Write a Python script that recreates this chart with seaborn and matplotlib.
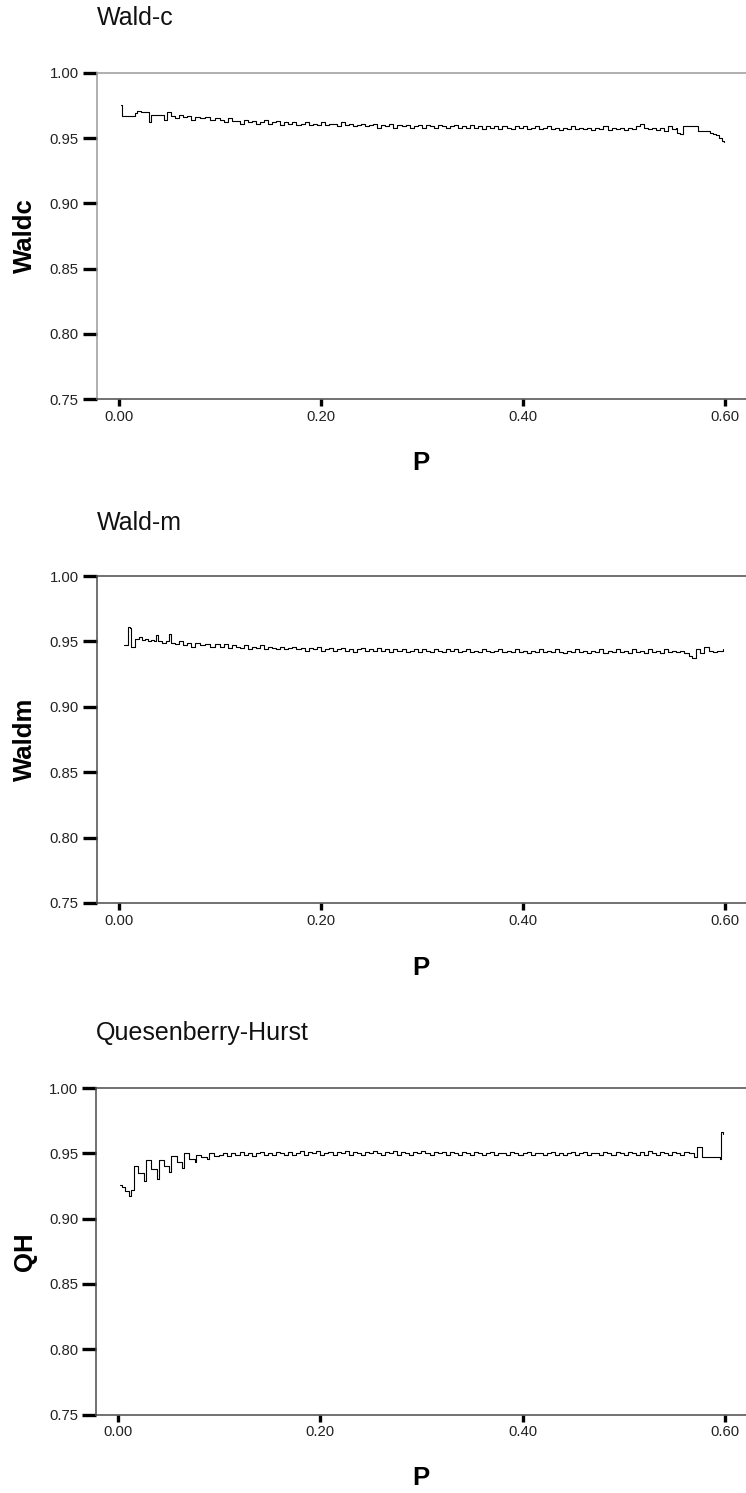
import numpy as np
import pandas as pd
import matplotlib
matplotlib.use("Agg")
import matplotlib.pyplot as plt
from matplotlib.ticker import FormatStrFormatter
import seaborn as sns

# ---------------- data ----------------
# shared P grid for the middle stretch of every curve
p_mid = [0.100, 0.104, 0.108, 0.112, 0.116, 0.120, 0.124, 0.128, 0.132, 0.136,
         0.140, 0.144, 0.148, 0.152, 0.156, 0.160, 0.164, 0.168, 0.172, 0.176,
         0.180, 0.184, 0.188, 0.192, 0.196, 0.200, 0.204, 0.208, 0.212, 0.216,
         0.220, 0.224, 0.228, 0.232, 0.236, 0.240, 0.244, 0.248, 0.252, 0.256,
         0.260, 0.264, 0.268, 0.272, 0.276, 0.280, 0.284, 0.288, 0.292, 0.296,
         0.300, 0.304, 0.308, 0.312, 0.316, 0.320, 0.324, 0.328, 0.332, 0.336,
         0.340, 0.344, 0.348, 0.352, 0.356, 0.360, 0.364, 0.368, 0.372, 0.376,
         0.380, 0.384, 0.388, 0.392, 0.396, 0.400, 0.404, 0.408, 0.412, 0.416,
         0.420, 0.424, 0.428, 0.432, 0.436, 0.440, 0.444, 0.448, 0.452, 0.456,
         0.460, 0.464, 0.468, 0.472, 0.476, 0.480, 0.484, 0.488, 0.492, 0.496,
         0.500, 0.504, 0.508, 0.512, 0.516, 0.520, 0.524, 0.528, 0.532, 0.536,
         0.540, 0.544, 0.548]

# Wald-c
p_waldc_early = [0.0025, 0.0035, 0.010, 0.016, 0.018, 0.022, 0.026, 0.030, 0.032, 0.040,
                 0.045, 0.048, 0.052, 0.056, 0.060, 0.064, 0.068, 0.072, 0.076, 0.080,
                 0.085, 0.090, 0.095]
waldc_early = [0.975, 0.967, 0.967, 0.969, 0.971, 0.970, 0.970, 0.962, 0.968, 0.968,
               0.964, 0.970, 0.967, 0.965, 0.968, 0.966, 0.967, 0.964, 0.966, 0.965,
               0.966, 0.964, 0.965]
waldc_mid = [0.964, 0.962, 0.965, 0.963, 0.963, 0.961, 0.964, 0.962, 0.963, 0.961,
             0.962, 0.964, 0.961, 0.962, 0.963, 0.960, 0.962, 0.961, 0.962, 0.960,
             0.961, 0.962, 0.960, 0.961, 0.960, 0.962, 0.960, 0.961, 0.961, 0.959,
             0.962, 0.960, 0.961, 0.959, 0.960, 0.961, 0.959, 0.960, 0.961, 0.958,
             0.960, 0.959, 0.961, 0.958, 0.960, 0.959, 0.960, 0.958, 0.959, 0.960,
             0.958, 0.960, 0.959, 0.958, 0.960, 0.959, 0.958, 0.959, 0.960, 0.958,
             0.959, 0.958, 0.960, 0.958, 0.959, 0.957, 0.959, 0.958, 0.959, 0.957,
             0.959, 0.958, 0.957, 0.959, 0.958, 0.959, 0.957, 0.958, 0.959, 0.957,
             0.958, 0.959, 0.957, 0.958, 0.956, 0.958, 0.957, 0.959, 0.957, 0.958,
             0.957, 0.958, 0.956, 0.958, 0.957, 0.959, 0.956, 0.958, 0.957, 0.958,
             0.956, 0.958, 0.957, 0.959, 0.961, 0.958, 0.957, 0.958, 0.956, 0.958,
             0.955, 0.959, 0.957]
p_waldc_late = [0.552, 0.553, 0.556, 0.559, 0.574, 0.582, 0.585, 0.588, 0.591, 0.594,
                0.597, 0.599]
waldc_late = [0.958, 0.954, 0.953, 0.959, 0.955, 0.955, 0.954, 0.953, 0.952, 0.950,
              0.948, 0.947]

# Wald-m
p_waldm_early = [0.005, 0.008, 0.009, 0.011, 0.012, 0.015, 0.016, 0.020, 0.023, 0.026,
                 0.029, 0.032, 0.035, 0.037, 0.039, 0.043, 0.047, 0.050, 0.052, 0.056,
                 0.060, 0.064, 0.068, 0.072, 0.076, 0.080, 0.085, 0.090, 0.095]
waldm_early = [0.947, 0.947, 0.961, 0.960, 0.946, 0.946, 0.952, 0.953, 0.951, 0.952,
               0.950, 0.951, 0.950, 0.955, 0.950, 0.949, 0.950, 0.956, 0.949, 0.948,
               0.950, 0.947, 0.949, 0.946, 0.949, 0.947, 0.948, 0.946, 0.948]
waldm_mid = [0.946, 0.948, 0.945, 0.947, 0.946, 0.945, 0.947, 0.944, 0.946, 0.945,
             0.947, 0.944, 0.946, 0.945, 0.944, 0.946, 0.944, 0.945, 0.946, 0.944,
             0.945, 0.943, 0.945, 0.944, 0.946, 0.943, 0.944, 0.945, 0.943, 0.944,
             0.945, 0.943, 0.944, 0.942, 0.944, 0.945, 0.943, 0.944, 0.943, 0.945,
             0.943, 0.944, 0.942, 0.944, 0.943, 0.944, 0.942, 0.943, 0.944, 0.942,
             0.944, 0.943, 0.942, 0.944, 0.943, 0.942, 0.944, 0.943, 0.944, 0.942,
             0.943, 0.944, 0.942, 0.943, 0.942, 0.944, 0.943, 0.942, 0.943, 0.944,
             0.942, 0.943, 0.942, 0.944, 0.942, 0.943, 0.941, 0.943, 0.942, 0.944,
             0.942, 0.943, 0.942, 0.944, 0.942, 0.941, 0.943, 0.942, 0.944, 0.942,
             0.943, 0.941, 0.943, 0.942, 0.944, 0.941, 0.943, 0.942, 0.944, 0.942,
             0.943, 0.941, 0.944, 0.942, 0.943, 0.941, 0.944, 0.942, 0.943, 0.941,
             0.944, 0.942, 0.943]
p_waldm_late = [0.552, 0.556, 0.560, 0.565, 0.568, 0.572, 0.576, 0.580, 0.584, 0.588,
                0.592, 0.598]
waldm_late = [0.942, 0.943, 0.941, 0.939, 0.937, 0.944, 0.941, 0.946, 0.943, 0.942,
              0.943, 0.944]

# Quesenberry-Hurst
p_qh_early = [0.0013, 0.004, 0.007, 0.0109, 0.013, 0.0153, 0.020, 0.0258, 0.027, 0.032,
              0.038, 0.040, 0.045, 0.050, 0.052, 0.058, 0.0635, 0.065, 0.070, 0.0755,
              0.077, 0.082, 0.088, 0.090, 0.095]
qh_early = [0.926, 0.924, 0.921, 0.917, 0.922, 0.940, 0.935, 0.929, 0.945, 0.938,
            0.930, 0.945, 0.940, 0.936, 0.948, 0.943, 0.939, 0.950, 0.946, 0.943,
            0.949, 0.947, 0.946, 0.950, 0.948]
qh_mid = [0.949, 0.950, 0.948, 0.950, 0.949, 0.951, 0.949, 0.950, 0.948, 0.950,
          0.951, 0.949, 0.950, 0.949, 0.951, 0.950, 0.949, 0.951, 0.949, 0.950,
          0.952, 0.949, 0.951, 0.950, 0.952, 0.949, 0.950, 0.951, 0.949, 0.951,
          0.950, 0.952, 0.949, 0.951, 0.950, 0.949, 0.951, 0.950, 0.952, 0.950,
          0.949, 0.951, 0.950, 0.952, 0.949, 0.951, 0.950, 0.949, 0.951, 0.950,
          0.952, 0.950, 0.949, 0.951, 0.950, 0.951, 0.949, 0.951, 0.950, 0.949,
          0.951, 0.950, 0.949, 0.951, 0.950, 0.949, 0.950, 0.951, 0.949, 0.950,
          0.950, 0.949, 0.951, 0.950, 0.949, 0.950, 0.951, 0.949, 0.950, 0.950,
          0.949, 0.950, 0.951, 0.949, 0.950, 0.949, 0.950, 0.951, 0.949, 0.950,
          0.951, 0.949, 0.950, 0.950, 0.949, 0.951, 0.950, 0.949, 0.951, 0.950,
          0.949, 0.951, 0.950, 0.949, 0.951, 0.949, 0.952, 0.950, 0.949, 0.951,
          0.950, 0.949, 0.951]
p_qh_late = [0.552, 0.556, 0.560, 0.565, 0.570, 0.573, 0.578, 0.590, 0.5955, 0.5965,
             0.598]
qh_late = [0.950, 0.949, 0.951, 0.950, 0.947, 0.955, 0.947, 0.947, 0.946, 0.966,
           0.965]

titles = ["Wald-c", "Wald-m", "Quesenberry-Hurst"]
ylabels = ["Waldc", "Waldm", "QH"]
xlabel = "P"
xticks = [0.00, 0.20, 0.40, 0.60]
yticks = [0.75, 0.80, 0.85, 0.90, 0.95, 1.00]

series = [
    (p_waldc_early + p_mid + p_waldc_late, waldc_early + waldc_mid + waldc_late),
    (p_waldm_early + p_mid + p_waldm_late, waldm_early + waldm_mid + waldm_late),
    (p_qh_early + p_mid + p_qh_late, qh_early + qh_mid + qh_late),
]

# ---------------- styling ----------------
sns.set_theme(style="white")
plt.rcParams["font.family"] = ["Liberation Sans", "DejaVu Sans"]

W, H = 746, 1493
fig = plt.figure(figsize=(W / 100, H / 100), dpi=100)

# axes boxes in pixels: (left, top, bottom)
boxes = [(96.7, 72.7, 399.3), (96.7, 576.0, 903.0), (96.2, 1088.0, 1414.5)]
title_y = [18, 523, 1033]
xlabel_y = [463, 968, 1478]
spine_cols = ["#9a9a9a", "#4a4a4a", "#4a4a4a"]

for i, ((left, top, bottom), (px, py)) in enumerate(zip(boxes, series)):
    ax = fig.add_axes([left / W, 1 - bottom / H, 1 - left / W, (bottom - top) / H])
    df = pd.DataFrame({"P": px, "val": py})
    sns.lineplot(data=df, x="P", y="val", ax=ax, color="black", linewidth=0.8,
                 drawstyle="steps-post", estimator=None, sort=False)
    ax.set_xlim(-0.0218, 0.6211)
    ax.set_ylim(0.75, 1.00)
    ax.set_xticks(xticks)
    ax.set_yticks(yticks)
    ax.xaxis.set_major_formatter(FormatStrFormatter("%.2f"))
    ax.yaxis.set_major_formatter(FormatStrFormatter("%.2f"))
    ax.set_xlabel("")
    ax.set_ylabel("")
    ax.grid(False)
    ax.tick_params(axis="y", direction="out", length=10, width=2.4, color="black",
                   pad=3, labelsize=10.7, labelcolor="#222222", left=True)
    ax.tick_params(axis="x", direction="out", length=4.8, width=2.4, color="black",
                   pad=2.8, labelsize=10.7, labelcolor="#222222", bottom=True)
    ax.spines["right"].set_visible(False)
    for s in ["left", "top"]:
        ax.spines[s].set_color(spine_cols[i])
        ax.spines[s].set_linewidth(1.1)
    ax.spines["bottom"].set_color("#4a4a4a")
    ax.spines["bottom"].set_linewidth(1.1)

    fig.text(left / W, 1 - title_y[i] / H, titles[i], fontsize=18, ha="left",
             va="center", color="#111111")
    fig.text(25 / W, 1 - (top + bottom) / 2 / H, ylabels[i], fontsize=18.5,
             fontweight="bold", rotation=90, ha="center", va="center", color="black")
    fig.text((left + W) / 2 / W, 1 - xlabel_y[i] / H, xlabel, fontsize=18.5,
             fontweight="bold", ha="center", va="center", color="black")

fig.savefig("out.png", dpi=100, facecolor="white")
